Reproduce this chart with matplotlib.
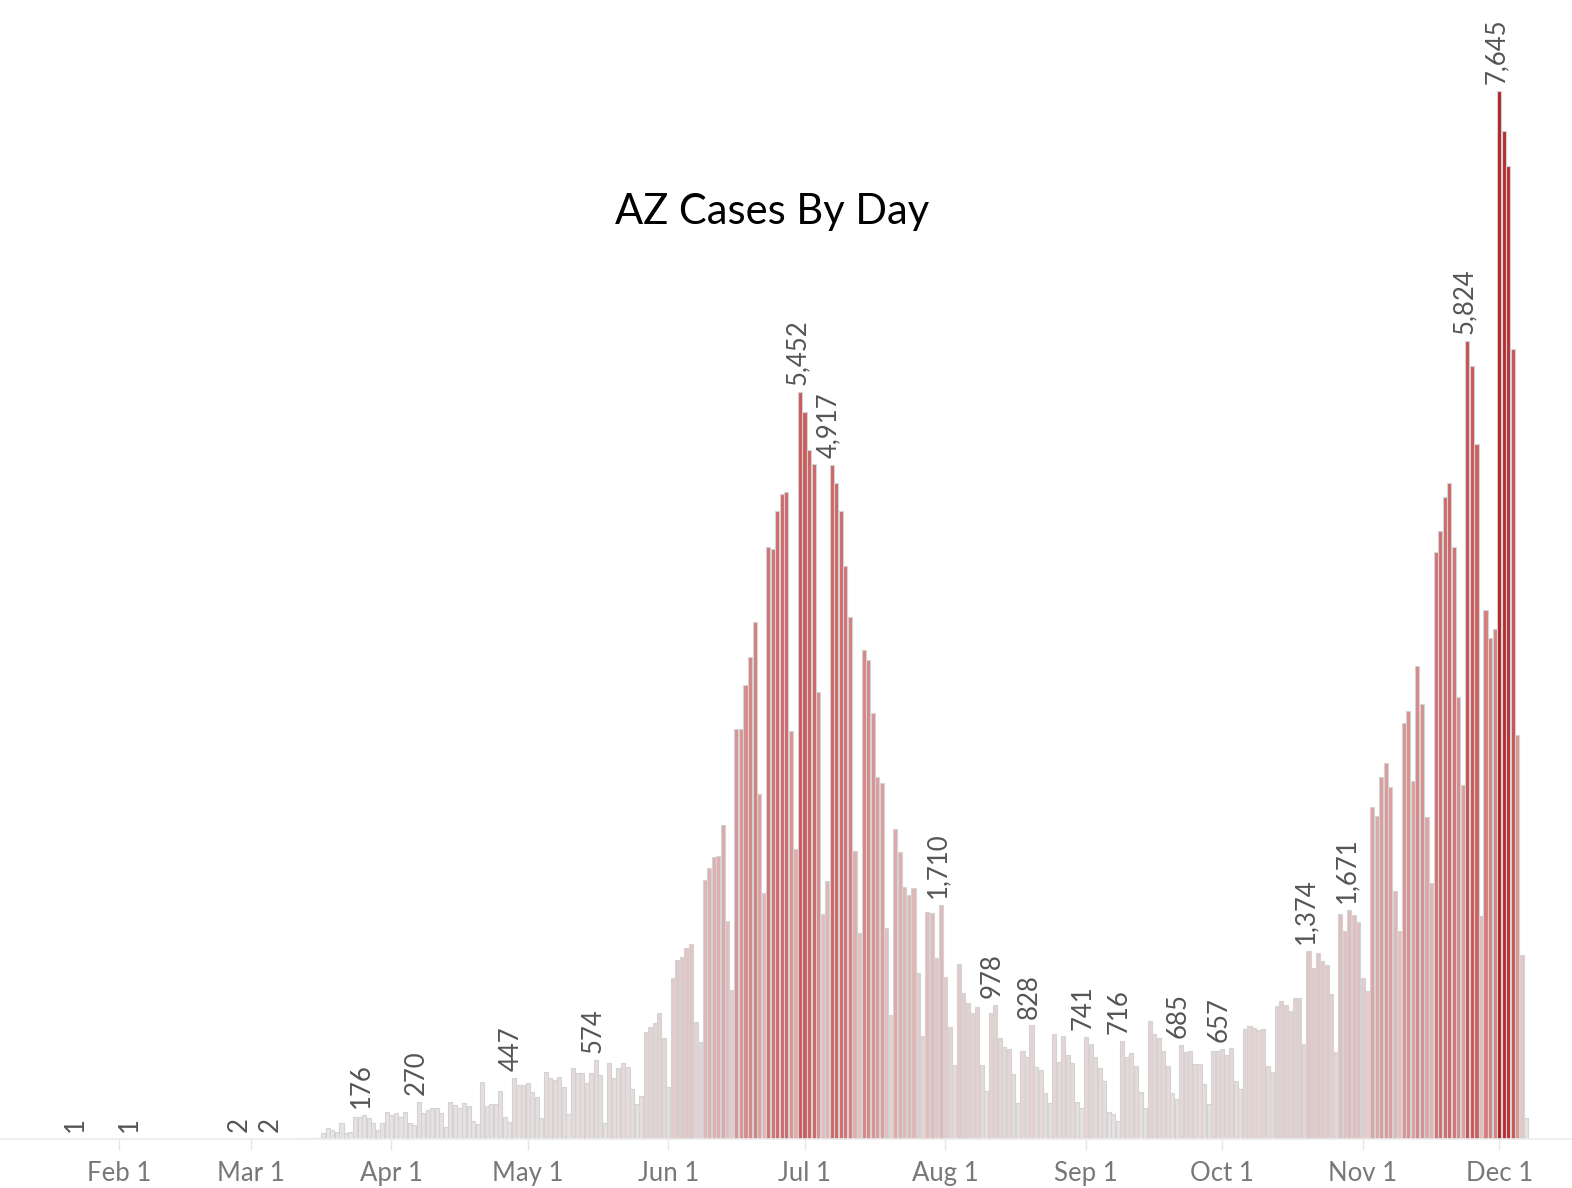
import matplotlib
matplotlib.use("Agg")
import matplotlib.pyplot as plt
import matplotlib.dates as mdates
from matplotlib.colors import LinearSegmentedColormap, Normalize
import pandas as pd

# sparse early cases
early_dates = ["2020-01-23", "2020-02-04", "2020-02-28", "2020-03-06"]
early_cases = [1, 1, 2, 2]

# daily cases from Mar 12 on
daily_start = "2020-03-12"
daily_cases = [
    2, 4, 3, 6, 8,
    # Mar 17 - Apr 7
    41, 82, 66, 49, 114, 41, 53, 163, 163, 176, 150, 120, 66, 114, 195, 175,
    190, 163, 195, 119, 100, 270,
    # Apr 8 - Apr 27
    192, 211, 224, 224, 192, 85, 272, 248, 224, 262, 243, 128, 113, 413, 240,
    258, 255, 352, 160, 126,
    # Apr 28 - May 16
    447, 394, 394, 411, 345, 304, 151, 491, 442, 430, 454, 377, 180, 515, 483,
    483, 406, 483, 574,
    # May 17 - Jun 1
    466, 119, 552, 442, 515, 552, 527, 364, 253, 316, 782, 814, 843, 921, 734, 377,
    # Jun 2 - Jul 17
    1177, 1309, 1330, 1392, 1421, 853, 709, 1888, 1974, 2056, 2067, 2289, 1589,
    1086, 2989, 2989, 3313, 3518, 3770, 2516, 1794, 4318, 4301, 4580, 4706, 4720,
    2979, 2117, 5452, 5306, 5026, 4921, 3259, 1642, 1884, 4917, 4785, 4580, 4182,
    3808, 2099, 1499, 3564, 3492, 3104, 2638,
    # Jul 18 - Jul 31
    2600, 1536, 904, 2258, 2090, 1839, 1779, 1828, 1212, 751, 1657, 1645, 1317, 1710,
    # Aug 1 - Aug 31
    1183, 819, 539, 1273, 1062, 989, 921, 964, 539, 350, 921, 978, 739, 673, 653,
    472, 260, 644, 600, 828, 527, 503, 333, 260, 763, 564, 751, 615, 552, 272, 224,
    # Sep 1 - Oct 14
    741, 690, 600, 520, 425, 195, 180, 131, 716, 596, 625, 535, 345, 224, 860, 763,
    734, 641, 532, 333, 289, 685, 636, 641, 547, 547, 401, 255, 641, 641, 657, 612,
    661, 425, 362, 800, 826, 807, 795, 800, 532, 491, 970, 1008,
    # Oct 15 - Oct 29
    979, 930, 1031, 1031, 690, 1374, 1250, 1358, 1301, 1268, 1061, 636, 1641, 1520, 1671,
    # Oct 30 - Dec 7
    1631, 1580, 1172, 1083, 2422, 2353, 2643, 2744, 2564, 1812, 1520, 3033, 3125,
    2608, 3453, 3174, 2350, 1868, 4279, 4437, 4683, 4784, 4321, 3222, 2581, 5824,
    5637, 5067, 1630, 3858, 3656, 3719, 7645, 7350, 7100, 5760, 2945, 1341, 153,
]

label_dates = ["2020-01-23", "2020-02-04", "2020-02-28", "2020-03-06",
               "2020-03-26", "2020-04-07", "2020-04-28", "2020-05-16",
               "2020-06-30", "2020-07-07", "2020-07-31", "2020-08-12",
               "2020-08-20", "2020-09-01", "2020-09-09", "2020-09-22",
               "2020-10-01", "2020-10-20", "2020-10-29", "2020-11-24",
               "2020-12-01"]

tick_dates = ["2020-02-01", "2020-03-01", "2020-04-01", "2020-05-01", "2020-06-01",
              "2020-07-01", "2020-08-01", "2020-09-01", "2020-10-01", "2020-11-01",
              "2020-12-01"]
tick_labels = ["Feb 1", "Mar 1", "Apr 1", "May 1", "Jun 1", "Jul 1", "Aug 1",
               "Sep 1", "Oct 1", "Nov 1", "Dec 1"]

dates = list(pd.to_datetime(early_dates)) + list(pd.date_range(daily_start, periods=len(daily_cases)))
cases = early_cases + daily_cases
x = mdates.date2num([d.to_pydatetime() for d in dates])

cmap = LinearSegmentedColormap.from_list(
    "az", [(0, "#e8e5e5"), (0.15, "#e3cccc"), (0.35, "#dc9c9c"),
           (0.55, "#d37474"), (0.75, "#c95457"), (1, "#b4252a")])
norm = Normalize(0, max(cases))

fig = plt.figure(figsize=(15.72, 11.88), dpi=100)
ax = fig.add_axes([0, 49 / 1188, 1, 1139 / 1188])

ax.bar(x, cases, width=0.9, color=cmap(norm(cases)), edgecolor="#d3d3d3", linewidth=0.8)

feb1 = mdates.date2num(pd.Timestamp("2020-02-01").to_pydatetime())
ax.set_xlim(feb1 - 119 / 4.54, feb1 + (1572 - 119) / 4.54)
ax.set_ylim(0, 1139 * 7.294)

label_set = set(pd.to_datetime(label_dates))
for d, xv, v in zip(dates, x, cases):
    if d in label_set:
        ax.annotate(f"{v:,}", (xv, v), xytext=(-2, 5), textcoords="offset points",
                    rotation=90, ha="center", va="bottom", fontsize=18.5,
                    family="Lato", color="#555555")

ax.set_xticks(mdates.date2num([pd.Timestamp(t).to_pydatetime() for t in tick_dates]))
ax.set_xticklabels(tick_labels, family="Lato", fontsize=18.5, color="#787878")
ax.tick_params(axis="x", length=8, width=1, color="#e6e6e6", pad=8)
ax.set_yticks([])
for s in ["top", "left", "right"]:
    ax.spines[s].set_visible(False)
ax.spines["bottom"].set_color("#ebebeb")
ax.spines["bottom"].set_linewidth(1.2)

fig.text(0.4914, 1 - 212 / 1188, "AZ Cases By Day", ha="center", va="center",
         fontsize=30, family="Lato", color="black")

fig.savefig("out.png", dpi=100)
